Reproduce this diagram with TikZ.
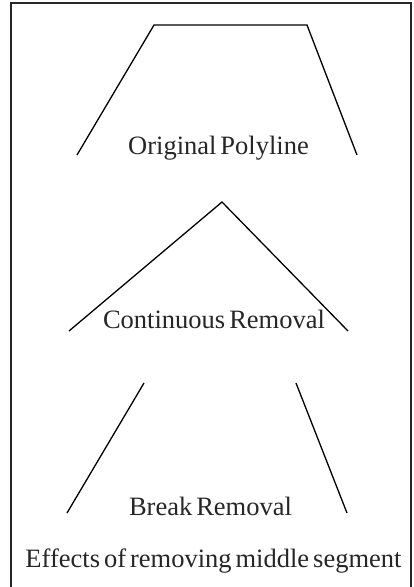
\documentclass[tikz,border=0pt]{standalone}
\usepackage{fontspec}
\setmainfont{Liberation Serif}[WordSpace={0.6,0,0}]
\begin{document}
\begin{tikzpicture}[x=1pt,y=-1pt,
  label/.style={font=\fontsize{26.5}{26.5}\selectfont, text=black!85, inner sep=0pt, anchor=base},
  poly/.style={line width=1.3pt, black},
  frame/.style={line width=2pt, black!85}]
\useasboundingbox (0,0) rectangle (413,587);
% outer frame (open at the bottom edge of the page)
\draw[frame] (11.3,600) -- (11.3,3) -- (411.2,3) -- (411.2,600);

% original polyline
\coordinate (a1) at (77,155);
\coordinate (a2) at (154,25);
\coordinate (a3) at (307,25);
\coordinate (a4) at (357,155);
\draw[poly] (a1) -- (a2) -- (a3) -- (a4);
\node[label] (t1) at (218.5,154) {Original Polyline};

% continuous removal: the two outer segments joined
\coordinate (b1) at (69,331);
\coordinate (b2) at (222,202);
\coordinate (b3) at (348,331);
\draw[poly] (b1) -- (b2) -- (b3);
\node[label] (t2) at (214,328) {Continuous Removal};

% break removal: the two outer segments kept apart
\coordinate (c1) at (67,513);
\coordinate (c2) at (144,383);
\coordinate (c3) at (296,383);
\coordinate (c4) at (347,513);
\draw[poly] (c1) -- (c2);
\draw[poly] (c3) -- (c4);
\node[label] (t3) at (210.5,515) {Break Removal};

\node[label] (cap) at (213.5,567) {Effects of removing middle segment};
\end{tikzpicture}
\end{document}
